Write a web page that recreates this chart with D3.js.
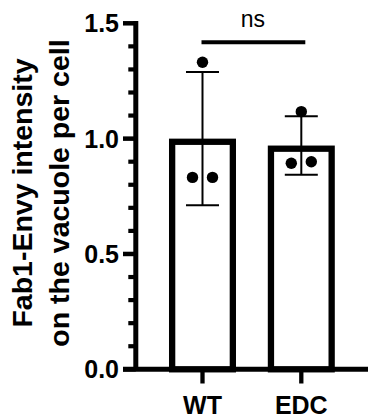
<!DOCTYPE html>
<html>
<head>
<meta charset="utf-8">
<script src="https://cdn.jsdelivr.net/npm/d3@7"></script>
<style>
  html, body { margin: 0; padding: 0; background: #fff; }
  svg { display: block; }
  text { font-family: "Liberation Sans", Arial, sans-serif; fill: #000; }
</style>
</head>
<body>
<svg id="chart" width="368" height="415"></svg>
<script>
// ---- data ----
const categories = ["WT", "EDC"];
const means = [1.0, 0.97];
const sds = [0.289, 0.127];
const pointsWT = [1.331, 0.832, 0.832];
const pointsEDC = [1.117, 0.893, 0.900];
const yTicks = [0.0, 0.5, 1.0, 1.5];
const yTickLabels = ["0.0", "0.5", "1.0", "1.5"];
const sigLabel = "ns";
const yTitleLines = ["Fab1-Envy intensity", "on the vacuole per cell"];

const points = [pointsWT, pointsEDC];

// ---- layout ----
const svg = d3.select("#chart");
const axisX = 135.8;
const y = d3.scaleLinear().domain([0, 1.5]).range([369.3, 23.3]);
const x = d3.scalePoint().domain(categories).range([axisX, 368]).padding(0.675);

const barW = 67, barStroke = 6.3;

// bars
svg.append("g").selectAll("rect").data(categories).join("rect")
  .attr("x", (d) => x(d) - barW / 2 + barStroke / 2)
  .attr("width", barW - barStroke)
  .attr("y", (d, i) => y(means[i]) + barStroke / 2)
  .attr("height", (d, i) => y(0) - y(means[i]) - barStroke / 2)
  .attr("fill", "#fff")
  .attr("stroke", "#000")
  .attr("stroke-width", barStroke);

// error bars
const capHalf = 16.5;
const eg = svg.append("g").attr("stroke", "#000").attr("stroke-width", 2);
categories.forEach((c, i) => {
  const cx = x(c);
  const top = y(means[i] + sds[i]), bot = y(means[i] - sds[i]);
  eg.append("line").attr("x1", cx).attr("x2", cx).attr("y1", top).attr("y2", bot);
  eg.append("line").attr("x1", cx - capHalf).attr("x2", cx + capHalf).attr("y1", top).attr("y2", top);
  eg.append("line").attr("x1", cx - capHalf).attr("x2", cx + capHalf).attr("y1", bot).attr("y2", bot);
});

// points (simple beeswarm: spread values that lie close together)
const r = 5.7, spread = 10;
categories.forEach((c, i) => {
  const vals = points[i].map((v, k) => ({ v, k })).sort((a, b) => b.v - a.v);
  const groups = [];
  vals.forEach((p) => {
    const g = groups[groups.length - 1];
    if (g && Math.abs(y(g[g.length - 1].v) - y(p.v)) < 2 * r) g.push(p);
    else groups.push([p]);
  });
  groups.forEach((g) => {
    g.sort((a, b) => a.v - b.v);
    g.forEach((p, j) => {
      const off = (j - (g.length - 1) / 2) * 2 * spread / Math.max(1, g.length - 1) * (g.length > 1 ? 1 : 0);
      svg.append("circle")
        .attr("cx", x(c) + off)
        .attr("cy", y(p.v))
        .attr("r", r)
        .attr("fill", "#000");
    });
  });
});

// y axis
const ax = svg.append("g").attr("stroke", "#000");
ax.append("line").attr("x1", axisX).attr("x2", axisX)
  .attr("y1", y(1.5) - 2.2).attr("y2", y(0)).attr("stroke-width", 5);
// minor ticks
d3.range(0, 15).map((k) => k / 10).filter((v) => Math.round(v * 10) % 5 !== 0).forEach((v) => {
  ax.append("line").attr("x1", axisX - 7.5).attr("x2", axisX)
    .attr("y1", y(v)).attr("y2", y(v)).attr("stroke-width", 4.2);
});
// major ticks
yTicks.forEach((v) => {
  ax.append("line").attr("x1", 123).attr("x2", axisX)
    .attr("y1", y(v)).attr("y2", y(v)).attr("stroke-width", 4.5);
});
svg.append("g").selectAll("text").data(yTicks).join("text")
  .attr("x", 119)
  .attr("y", (d) => y(d) + 9)
  .attr("text-anchor", "end")
  .attr("font-size", 25)
  .attr("font-weight", "bold")
  .text((d, i) => yTickLabels[i]);

// x axis
ax.append("line").attr("x1", 123).attr("x2", 368)
  .attr("y1", y(0)).attr("y2", y(0)).attr("stroke-width", 5);
categories.forEach((c) => {
  ax.append("line").attr("x1", x(c)).attr("x2", x(c))
    .attr("y1", y(0)).attr("y2", 383.5).attr("stroke-width", 4.3);
});
svg.append("g").selectAll("text").data(categories).join("text")
  .attr("x", (d) => x(d))
  .attr("y", 414)
  .attr("text-anchor", "middle")
  .attr("font-size", 25)
  .attr("font-weight", "bold")
  .text((d) => d);

// significance bar
svg.append("line").attr("x1", x("WT") - 1).attr("x2", x("EDC") + 4)
  .attr("y1", 42.3).attr("y2", 42.3).attr("stroke", "#000").attr("stroke-width", 4);
svg.append("text")
  .attr("x", (x("WT") + x("EDC")) / 2 + 1)
  .attr("y", 26.7)
  .attr("text-anchor", "middle")
  .attr("font-size", 23)
  .text(sigLabel);

// y title
const tg = svg.append("g");
[31.7, 68.5].forEach((bx, i) => {
  tg.append("text")
    .attr("transform", `translate(${bx},193) rotate(-90)`)
    .attr("text-anchor", "middle")
    .attr("font-size", 28.5)
    .attr("font-weight", "bold")
    .text(yTitleLines[i]);
});
</script>
</body>
</html>
